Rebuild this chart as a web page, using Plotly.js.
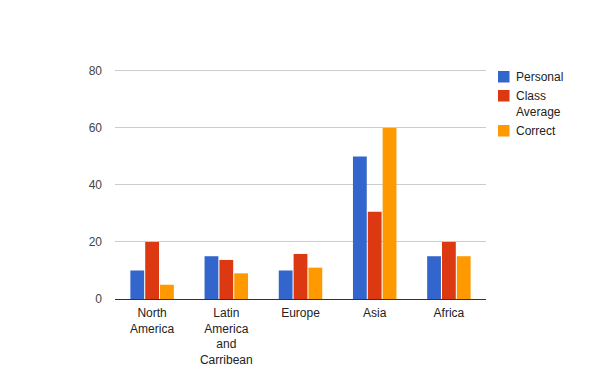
<!DOCTYPE html>
<html><head><meta charset="utf-8">
<script src="https://cdn.plot.ly/plotly-3.0.1.min.js"></script>
<style>html,body{margin:0;padding:0;background:#fff}#c{width:600px;height:371px}</style>
</head><body><div id="c"></div>
<script>
const categories = ["North<br>America", "Latin<br>America<br>and<br>Carribean", "Europe", "Asia", "Africa"];
const seriesNames = ["Personal", "Class<br>Average", "Correct"];
const personal = [10, 15, 10, 50, 15];
const classAverage = [20, 13.7, 15.8, 30.6, 20];
const correct = [5, 9, 11, 60, 15];
const yTicks = [0, 20, 40, 60, 80];
const colors = ["#3366cc", "#dc3912", "#ff9900"];

const values = [personal, classAverage, correct];
const traces = values.map((v, i) => ({
  type: "bar", x: categories, y: v, name: seriesNames[i],
  marker: {color: colors[i]}, hoverinfo: "none", showlegend: false
}));

// plot-area geometry (pixels) used to place the hand-made legend
const M = {l: 115, r: 114, t: 68, b: 72};
const PW = 600 - M.l - M.r, PH = 371 - M.t - M.b;
const px = x => (x - M.l) / PW;
const py = y => 1 - (y - M.t) / PH;

const legendTop = [71, 90, 125];       // square tops
const legendTextY = [77, 103.5, 131];  // text centers
const shapes = seriesNames.map((n, i) => ({
  type: "rect", xref: "paper", yref: "paper",
  x0: px(498), x1: px(509.5), y0: py(legendTop[i]), y1: py(legendTop[i] + 11.5),
  fillcolor: colors[i], line: {width: 0}
}));
const annotations = seriesNames.map((n, i) => ({
  xref: "paper", yref: "paper", x: px(514), y: py(legendTextY[i]),
  xanchor: "left", yanchor: "middle", align: "left", showarrow: false,
  text: n, font: {size: 12, color: "#222"}
}));

const layout = {
  width: 600, height: 371,
  margin: M,
  paper_bgcolor: "#fff", plot_bgcolor: "#fff",
  font: {family: "Liberation Sans, Arial, sans-serif", size: 12, color: "#222"},
  barmode: "group", bargap: 0.4, bargroupgap: 0.07,
  xaxis: {showgrid: false, ticks: "", tickfont: {color: "#222"}, showline: false, fixedrange: true,
          ticklabelstandoff: 5},
  yaxis: {range: [0, 81], tickvals: yTicks, ticktext: yTicks.map(String), showgrid: true, gridcolor: "#cccccc",
          zeroline: true, zerolinecolor: "#333333", zerolinewidth: 1, ticks: "", ticklabelstandoff: 12,
          tickfont: {color: "#444"}, fixedrange: true},
  showlegend: false,
  shapes: shapes,
  annotations: annotations
};
Plotly.newPlot("c", traces, layout, {staticPlot: true, displayModeBar: false});
</script></body></html>
